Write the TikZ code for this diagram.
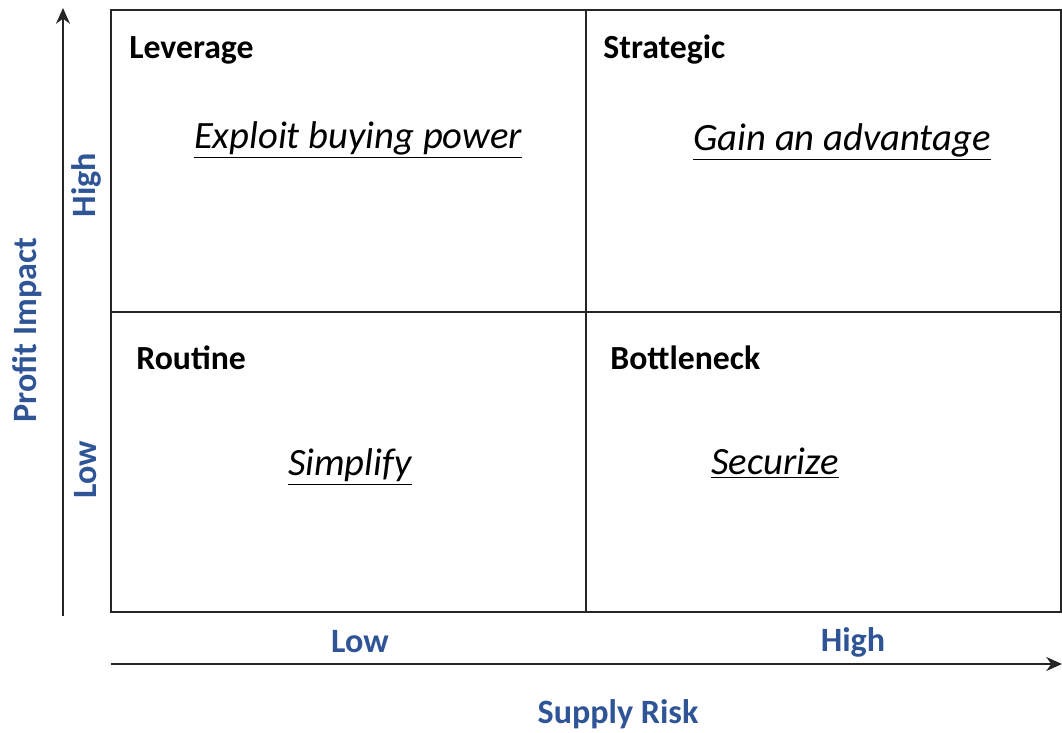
\documentclass[tikz,border=0pt]{standalone}
\usepackage{fontspec}
\setmainfont{Carlito}
\usepackage{tikz}
\usetikzlibrary{arrows}
\usetikzlibrary{arrows.meta}
\tikzset{>=stealth'}
\definecolor{axisblue}{RGB}{47, 85, 151}
\tikzset{
    quadtitle/.style={font=\fontsize{19.2}{22}\selectfont\bfseries, anchor=west, inner sep=0pt},
    quadaction/.style={font=\fontsize{22}{26}\selectfont\itshape, inner sep=0pt},
    axislabel/.style={font=\fontsize{19.4}{22}\selectfont\bfseries, color=axisblue, inner sep=0pt},
    gridline/.style={line width=1.1pt, color=black!85},
    axisline/.style={line width=1pt, color=black!85},
    axistip/.style={-{Stealth[length=9pt, width=8pt]}}
}

\begin{document}
\begin{tikzpicture}[x=0.02cm, y=-0.02cm]

    \useasboundingbox (0,0) rectangle (1062,733);

    % matrix
    \coordinate (nw) at (111,10);
    \coordinate (se) at (1061,612);
    \draw[gridline] (nw) rectangle (se);
    \draw[gridline] (586,10) -- (586,612);
    \draw[gridline] (111,312) -- (1061,312);

    % quadrants
    \node[quadtitle] (leverage) at (129,50) {Leverage};
    \node[quadtitle] (strategic) at (603,50) {Strategic};
    \node[quadtitle] (routine) at (136,358) {Routine};
    \node[quadtitle] (bottleneck) at (610,358) {Bottleneck};

    \node[quadaction] (exploit) at (358,140) {\underline{Exploit buying power}};
    \node[quadaction] (gain) at (842,142) {\underline{Gain an advantage}};
    \node[quadaction] (simplify) at (350,467) {\underline{Simplify}};
    \node[quadaction] (securize) at (775,463) {\underline{Securize}};

    % axes
    \coordinate (yfrom) at (63,616);
    \coordinate (yto) at (63,8);
    \coordinate (xfrom) at (111,664);
    \coordinate (xto) at (1062,664);
    \draw[axisline, axistip] (yfrom) -- (yto);
    \draw[axisline, axistip] (xfrom) -- (xto);

    \node[axislabel] (xlow) at (360,642) {Low};
    \node[axislabel] (xhigh) at (853,642) {High};
    \node[axislabel] (xname) at (618,714) {Supply Risk};

    \node[axislabel, rotate=90] (yhigh) at (86,185) {High};
    \node[axislabel, rotate=90] (ylow) at (86,470) {Low};
    \node[axislabel, rotate=90] (yname) at (27,330) {Profit Impact};

\end{tikzpicture}
\end{document}
